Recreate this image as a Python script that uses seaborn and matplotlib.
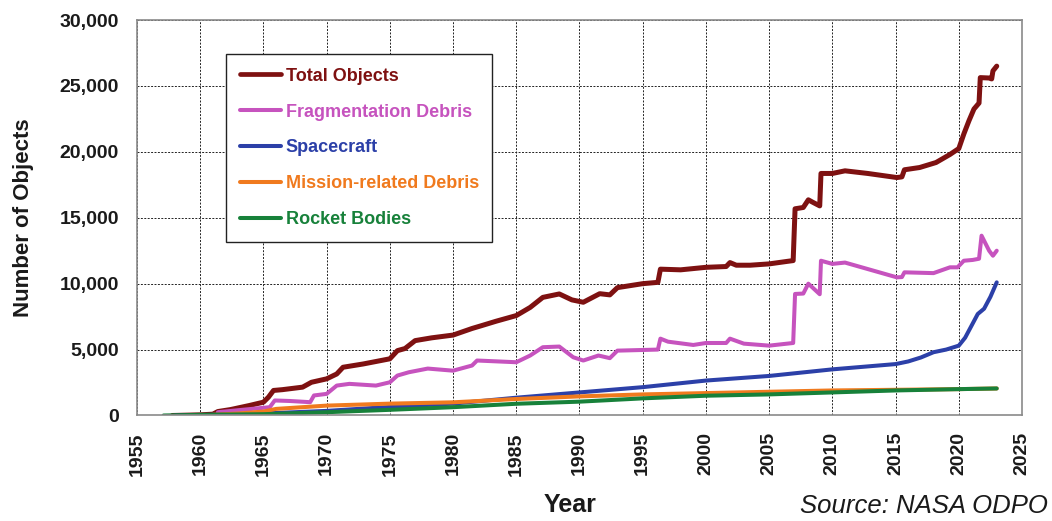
import matplotlib
matplotlib.use('Agg')
import matplotlib.pyplot as plt
import matplotlib.ticker as mticker
import pandas as pd
import seaborn as sns

# values (year, number of objects)
tot_yr = [1957.8, 1960.0, 1961.0, 1961.4, 1962.4, 1963.9, 1965.0, 1965.4, 1965.8, 1966.5, 1968.1,
          1968.8, 1970.0, 1970.8, 1971.3, 1972.9, 1975.0, 1975.6, 1976.2, 1977.0, 1978.3,
          1980.0, 1981.5, 1982.2, 1983.4, 1985.0, 1986.1, 1987.1, 1988.4, 1989.4, 1990.3,
          1991.6, 1992.4, 1993.0, 1995.0, 1996.2, 1996.4, 1998.0, 2000.0, 2001.6, 2001.9,
          2002.4, 2003.5, 2005.0, 2006.5, 2006.9, 2007.05, 2007.7, 2008.1, 2008.4, 2009.0,
          2009.1, 2010.0, 2011.0, 2012.8, 2015.1, 2015.5, 2015.7, 2016.9, 2018.2, 2019.3,
          2020.0, 2020.4, 2020.8, 2021.2, 2021.6, 2021.7, 2022.4, 2022.6, 2022.7, 2023.0]
tot_val = [0, 50, 100, 300, 450, 760, 1010, 1390, 1900, 1960, 2150,
           2520, 2780, 3150, 3660, 3910, 4300, 4920, 5080, 5680, 5890,
           6100, 6600, 6800, 7150, 7580, 8200, 8960, 9220, 8770, 8590,
           9240, 9150, 9700, 10000, 10100, 11100, 11050, 11240, 11300, 11600,
           11400, 11400, 11500, 11700, 11750, 15680, 15780, 16360, 16200, 15900,
           18360, 18360, 18560, 18360, 18050, 18100, 18640, 18810, 19190, 19800,
           20250, 21360, 22350, 23250, 23700, 25630, 25600, 25530, 26140, 26500]

frag_yr = [1961.4, 1963.0, 1965.5, 1965.9, 1967.1, 1968.7, 1969.0, 1970.0, 1970.8, 1971.8,
           1973.9, 1975.0, 1975.6, 1976.5, 1978.0, 1980.0, 1981.5, 1981.9, 1985.0, 1986.1,
           1987.1, 1988.4, 1989.5, 1990.3, 1991.5, 1992.4, 1993.0, 1996.2, 1996.4, 1997.0,
           1999.0, 2000.0, 2001.6, 2001.9, 2003.0, 2005.0, 2006.9, 2007.05, 2007.7, 2008.1,
           2009.0, 2009.1, 2010.0, 2011.0, 2015.1, 2015.5, 2015.7, 2018.0, 2019.3, 2019.9,
           2020.4, 2021.1, 2021.6, 2021.8, 2022.4, 2022.7, 2023.0]
frag_val = [250, 400, 630, 1140, 1100, 1010, 1520, 1640, 2270, 2400,
            2270, 2520, 3030, 3280, 3560, 3400, 3790, 4170, 4040, 4550,
            5180, 5230, 4420, 4170, 4550, 4350, 4920, 5000, 5830, 5600,
            5350, 5500, 5500, 5830, 5450, 5300, 5500, 9220, 9250, 10000,
            9200, 11740, 11500, 11600, 10480, 10500, 10860, 10800, 11240, 11240,
            11740, 11800, 11890, 13640, 12500, 12120, 12500]

sc_yr = [1958.0, 1960, 1963, 1965, 1970, 1975, 1980, 1985, 1990, 1995, 2000, 2005,
         2010, 2015, 2016, 2017, 2018, 2019, 2020, 2020.5, 2021, 2021.5, 2022, 2022.5, 2023]
sc_val = [0, 30, 100, 150, 350, 650, 900, 1350, 1750, 2150, 2650, 3000,
          3500, 3900, 4100, 4400, 4800, 5000, 5300, 5900, 6800, 7700, 8100, 9000, 10100]

mr_yr = [1961, 1963, 1965, 1966, 1970, 1975, 1980, 1985, 1990, 1995, 2000, 2005, 2010, 2015, 2020, 2023]
mr_val = [50, 150, 300, 500, 750, 900, 1000, 1250, 1450, 1600, 1700, 1800, 1900, 1950, 2000, 2050]

rb_yr = [1957.1, 1960, 1965, 1970, 1975, 1980, 1985, 1990, 1995, 2000, 2005, 2010, 2015, 2020, 2023]
rb_val = [0, 50, 100, 250, 430, 630, 890, 1050, 1300, 1500, 1600, 1750, 1900, 2000, 2050]

series = [
    ('Total Objects', tot_yr, tot_val, '#7E1111', 3.6),
    ('Fragmentation Debris', frag_yr, frag_val, '#C653BE', 2.9),
    ('Spacecraft', sc_yr, sc_val, '#2C40A8', 2.9),
    ('Mission-related Debris', mr_yr, mr_val, '#F07A1E', 2.9),
    ('Rocket Bodies', rb_yr, rb_val, '#17813A', 2.9),
]

sns.set_style('white')
plt.rcParams['font.family'] = ['Liberation Sans', 'DejaVu Sans']

fig = plt.figure(figsize=(10.52, 5.21), dpi=100)
ax = fig.add_axes([0.1302, 0.2025, 0.8413, 0.7591])

for name, xs, ys, col, lw in series:
    d = pd.DataFrame({'year': xs, 'count': ys})
    sns.lineplot(data=d, x='year', y='count', ax=ax, color=col, lw=lw,
                 label=name, estimator=None, sort=False)

ax.set_xlim(1955, 2025)
ax.set_ylim(0, 30000)
ax.xaxis.set_major_locator(mticker.MultipleLocator(5))
ax.xaxis.set_minor_locator(mticker.MultipleLocator(1))
ax.yaxis.set_major_locator(mticker.MultipleLocator(5000))
ax.yaxis.set_minor_locator(mticker.MultipleLocator(1000))
ax.yaxis.set_major_formatter(mticker.FuncFormatter(lambda v, p: f'{int(v):,}'))
ax.set_xlabel('')
ax.set_ylabel('')

ax.grid(True, which='major', color='#222222', lw=0.7, ls=(0, (2, 1.5)))
for s in ax.spines.values():
    s.set_color('#8a8a8a')
    s.set_linewidth(1.2)

ax.tick_params(axis='x', which='both', direction='out', length=6, width=0.9,
               color='#555555', pad=6)
ax.tick_params(axis='y', which='both', direction='inout', length=6, width=0.9,
               color='#555555', pad=10)
for t in ax.get_xticklabels():
    t.set_rotation(90)
    t.set_fontsize(14)
    t.set_fontweight('bold')
    t.set_color('#1a1a1a')
for t in ax.get_yticklabels():
    t.set_fontsize(14)
    t.set_fontweight('bold')
    t.set_color('#1a1a1a')

leg = ax.legend(loc='upper left', bbox_to_anchor=(0.1006, 0.914), borderaxespad=0,
                frameon=True, fancybox=False, framealpha=1, edgecolor='#222222',
                prop={'size': 13, 'weight': 'bold'}, handlelength=2.3,
                handletextpad=0.25, labelspacing=1.05, borderpad=0.75)
leg.get_frame().set_linewidth(1.0)
for txt, (name, xs, ys, col, lw) in zip(leg.get_texts(), series):
    txt.set_color(col)
for h, (name, xs, ys, col, lw) in zip(leg.get_lines(), series):
    h.set_linewidth(3.4 if name == 'Total Objects' else 2.9)

fig.text(24 / 1052, 0.583, 'Number of Objects', rotation=90, ha='center', va='center',
         fontsize=16, fontweight='bold', color='#1a1a1a')
fig.text(570 / 1052, 1 - 505 / 521, 'Year', ha='center', va='center',
         fontsize=18, fontweight='bold', color='#1a1a1a')
fig.text(1048 / 1052, 1 - 506 / 521, 'Source: NASA ODPO', ha='right', va='center',
         fontsize=18.5, style='italic', color='#1a1a1a')

fig.savefig('out.png', dpi=100)
